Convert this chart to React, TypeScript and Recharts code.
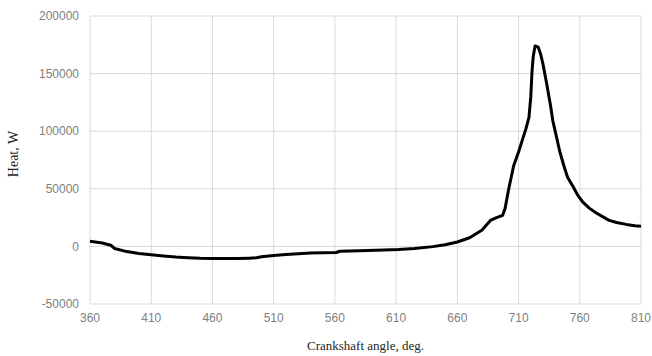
import React from "react";
import { LineChart, Line, XAxis, YAxis, CartesianGrid } from "recharts";

const angles = [
  360, 370, 377, 380, 390, 400, 410, 420, 430, 440, 450, 460, 470, 480, 490, 496, 500, 510, 520, 530,
  540, 550, 561, 564, 580, 600, 612, 625, 640, 650, 660, 670, 680, 687, 692, 697, 699, 702, 706, 710,
  713, 716, 718.5, 720, 721, 722, 723.5, 726, 728, 730, 733, 734, 736, 738, 741, 743.5, 747, 750, 754.5,
  758, 762.5, 768, 773.5, 780, 784, 790, 798, 805, 810,
];
const heat = [
  4500, 3000, 1000, -1800, -4500, -6200, -7300, -8300, -9200, -9800, -10300, -10500, -10600, -10500,
  -10200, -9900, -9000, -7800, -7000, -6300, -5800, -5500, -5300, -4200, -3800, -3200, -2700, -1800,
  -200, 1500, 3800, 7500, 14000, 22500, 25000, 27000, 33000, 50000, 70000, 82000, 92000, 102000, 112000,
  130000, 152000, 165000, 174000, 173000, 167000, 158000, 141000, 135000, 123000, 109000, 95000, 83000,
  70000, 60000, 52000, 45000, 38500, 33000, 29000, 25000, 22600, 20800, 19100, 18000, 17400,
];
const xTicks = [360, 410, 460, 510, 560, 610, 660, 710, 760, 810];
const yTicks = [-50000, 0, 50000, 100000, 150000, 200000];

const data = angles.map((a, i) => ({ angle: a, heat: heat[i] }));

const tickStyle = { fontFamily: "Liberation Sans, Arial, sans-serif", fontSize: 12, fill: "#808080" };

const YLabel = (props: any) => {
  const vb = props.viewBox || { x: 0, y: 0, width: 0, height: 0 };
  const cx = vb.x + 18;
  const cy = vb.y + vb.height / 2 - 6;
  return (
    <text
      x={cx}
      y={cy}
      transform={`rotate(-90, ${cx}, ${cy})`}
      textAnchor="middle"
      fontFamily="Liberation Serif, Times New Roman, serif"
      fontSize={14}
      fill="#262626"
    >
      Heat, W
    </text>
  );
};

const XLabel = (props: any) => {
  const vb = props.viewBox || { x: 0, y: 0, width: 0, height: 0 };
  const cx = vb.x + vb.width / 2;
  const cy = vb.y + 46;
  return (
    <text
      x={cx}
      y={cy}
      textAnchor="middle"
      fontFamily="Liberation Serif, Times New Roman, serif"
      fontSize={13}
      fill="#262626"
    >
      Crankshaft angle, deg.
    </text>
  );
};

export default function App() {
  return (
    <div style={{ width: 652, height: 356, overflow: "hidden" }}>
      <style>{"body{margin:0;overflow:hidden}"}</style>
      <LineChart width={652} height={356} data={data} margin={{ top: 16, right: 11, bottom: 0, left: 0 }}>
        <CartesianGrid stroke="#d9d9d9" strokeWidth={1} />
        <XAxis
          dataKey="angle"
          type="number"
          domain={[360, 810]}
          ticks={xTicks}
          interval={0}
          axisLine={false}
          tickLine={false}
          tickMargin={3}
          height={52}
          tick={tickStyle}
          label={<XLabel />}
        />
        <YAxis
          type="number"
          domain={[-50000, 200000]}
          ticks={yTicks}
          interval={0}
          axisLine={false}
          tickLine={false}
          tickMargin={5}
          width={90}
          tick={tickStyle}
          label={<YLabel />}
        />
        <Line
          type="linear"
          dataKey="heat"
          stroke="#000000"
          strokeWidth={3}
          dot={false}
          isAnimationActive={false}
          strokeLinejoin="round"
        />
      </LineChart>
    </div>
  );
}
